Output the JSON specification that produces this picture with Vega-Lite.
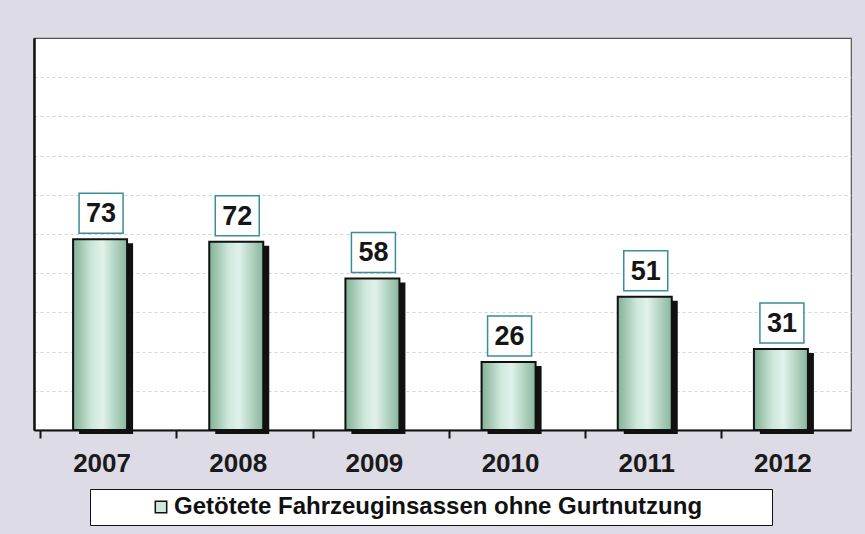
{
  "$schema": "https://vega.github.io/schema/vega-lite/v6.json",
  "width": 817,
  "height": 392,
  "autosize": "none",
  "padding": {"left": 34, "top": 38, "right": 14, "bottom": 104},
  "background": "#dddbe6",
  "config": {
    "view": {"fill": "white", "stroke": "#555", "strokeWidth": 1.2},
    "font": "Liberation Sans"
  },
  "data": {
    "values": [
      {"year": "2007", "value": 73, "series": "Getötete Fahrzeuginsassen ohne Gurtnutzung"},
      {"year": "2008", "value": 72, "series": "Getötete Fahrzeuginsassen ohne Gurtnutzung"},
      {"year": "2009", "value": 58, "series": "Getötete Fahrzeuginsassen ohne Gurtnutzung"},
      {"year": "2010", "value": 26, "series": "Getötete Fahrzeuginsassen ohne Gurtnutzung"},
      {"year": "2011", "value": 51, "series": "Getötete Fahrzeuginsassen ohne Gurtnutzung"},
      {"year": "2012", "value": 31, "series": "Getötete Fahrzeuginsassen ohne Gurtnutzung"}
    ]
  },
  "encoding": {
    "x": {
      "field": "year",
      "type": "nominal",
      "title": null,
      "axis": {
        "labelAngle": 0,
        "labelFont": "Liberation Sans",
        "labelFontSize": 26,
        "labelFontWeight": "bold",
        "labelColor": "#1a1a1a",
        "labelPadding": 12,
        "bandPosition": 0,
        "tickColor": "#111",
        "tickWidth": 2,
        "tickSize": 8,
        "domainColor": "#111",
        "domainWidth": 2,
        "grid": false
      }
    },
    "y": {
      "field": "value",
      "type": "quantitative",
      "title": null,
      "scale": {"domain": [0, 150], "nice": false},
      "axis": {
        "values": [15, 30, 45, 60, 75, 90, 105, 120, 135],
        "labels": false,
        "ticks": false,
        "domainColor": "#111",
        "domainWidth": 2.5,
        "gridColor": "#d2d2d2",
        "gridDash": [3, 3],
        "gridWidth": 1
      }
    }
  },
  "layer": [
    {
      "mark": {"type": "bar", "width": 54, "xOffset": 4, "x2Offset": 4, "yOffset": 4, "y2Offset": 0, "color": "#111"}
    },
    {
      "mark": {"type": "bar", "width": 54, "opacity": 0},
      "encoding": {
        "fill": {
          "field": "series",
          "type": "nominal",
          "scale": {"range": ["#cfe9d8"]},
          "legend": {
            "title": "\u00a0",
            "titleOrient": "right",
            "titlePadding": 64,
            "orient": "none",
            "legendX": 56,
            "legendY": 451,
            "direction": "horizontal",
            "fillColor": "white",
            "strokeColor": "#111",
            "padding": 6,
            "symbolType": "square",
            "symbolSize": 130,
            "symbolOffset": 53,
            "symbolOpacity": 1,
            "symbolStrokeColor": "#111",
            "symbolStrokeWidth": 1.5,
            "labelFont": "Liberation Sans",
            "labelFontSize": 24,
            "labelFontWeight": "bold",
            "labelColor": "#111",
            "labelOffset": 1,
            "labelLimit": 700
          }
        }
      }
    },
    {
      "mark": {
        "type": "bar",
        "width": 54,
        "xOffset": -2,
        "x2Offset": -2,
        "stroke": "#111",
        "strokeWidth": 2,
        "fill": {
          "gradient": "linear",
          "x1": 0, "y1": 0, "x2": 1, "y2": 0,
          "stops": [
            {"offset": 0, "color": "#82b097"},
            {"offset": 0.35, "color": "#cde7da"},
            {"offset": 0.55, "color": "#e0f2ea"},
            {"offset": 1, "color": "#88b69c"}
          ]
        }
      }
    },
    {
      "mark": {
        "type": "point",
        "shape": "M-1.1,-1H1.1V1H-1.1Z",
        "size": 1600,
        "filled": true,
        "fill": "white",
        "stroke": "#3a8d9b",
        "strokeWidth": 1.5,
        "opacity": 1,
        "xOffset": -1,
        "yOffset": -26
      }
    },
    {
      "mark": {
        "type": "text",
        "font": "Liberation Sans",
        "fontSize": 27,
        "fontWeight": "bold",
        "color": "#151515",
        "baseline": "middle",
        "xOffset": -1,
        "yOffset": -25
      },
      "encoding": {"text": {"field": "value", "type": "quantitative"}}
    }
  ]
}
